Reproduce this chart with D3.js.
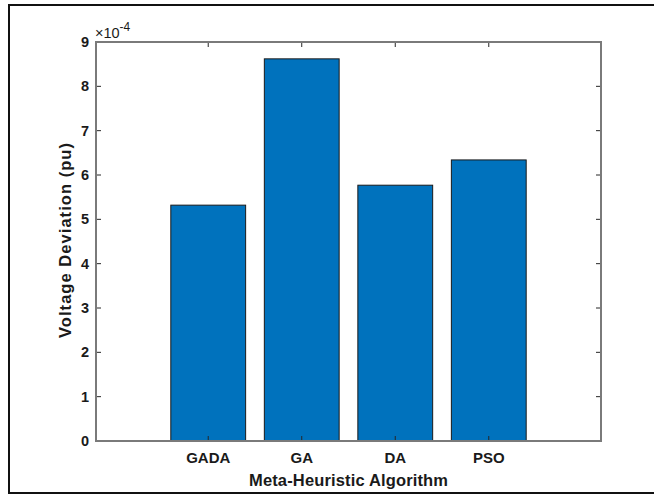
<!DOCTYPE html>
<html>
<head>
<meta charset="utf-8">
<script src="https://cdn.jsdelivr.net/npm/d3@7"></script>
<style>
  html, body { margin: 0; padding: 0; background: #fff; }
  svg { display: block; }
  text { font-family: "Liberation Sans", Arial, Helvetica, sans-serif; fill: #1a1a1a; }
</style>
</head>
<body>
<svg id="chart" width="654" height="495"></svg>
<script>
const categories = ["GADA", "GA", "DA", "PSO"];
const values = [5.32, 8.62, 5.77, 6.34]; // ×10^-4
const yTicks = [0, 1, 2, 3, 4, 5, 6, 7, 8, 9];

const svg = d3.select("#chart");
const mLeft = 96, mRight = 601, mTop = 42, mBottom = 441;

// outer frame
svg.append("rect").attr("x", 9).attr("y", 5).attr("width", 680).attr("height", 488)
  .attr("fill", "none").attr("stroke", "#111").attr("stroke-width", 2);

const x = d3.scaleLinear().domain([-0.2, 5.2]).range([mLeft, mRight]);
const y = d3.scaleLinear().domain([0, 9]).range([mBottom, mTop]);
const pos = (d, i) => i + 1;
const bw = x(0.8) - x(0);

// bars
svg.append("g").selectAll("rect").data(values).join("rect")
  .attr("x", (d, i) => x(pos(d, i)) - bw / 2)
  .attr("y", d => y(d))
  .attr("width", bw)
  .attr("height", d => y(0) - y(d))
  .attr("fill", "#0072BD")
  .attr("stroke", "#1a1a1a")
  .attr("stroke-width", 1);

const tickLen = 5;
const tickColor = "#262626";
const g = svg.append("g");
// bottom & top ticks
categories.forEach((c, i) => {
  const xp = x(i + 1);
  g.append("line").attr("x1", xp).attr("x2", xp).attr("y1", mBottom).attr("y2", mBottom - tickLen)
    .attr("stroke", tickColor).attr("stroke-width", 1);
  g.append("line").attr("x1", xp).attr("x2", xp).attr("y1", mTop).attr("y2", mTop + tickLen)
    .attr("stroke", tickColor).attr("stroke-width", 1);
  g.append("text").attr("x", xp).attr("y", 463).attr("text-anchor", "middle")
    .attr("font-size", 15).attr("font-weight", "bold").text(c);
});
// left & right ticks
yTicks.forEach(t => {
  const yp = y(t);
  g.append("line").attr("x1", mLeft).attr("x2", mLeft + tickLen).attr("y1", yp).attr("y2", yp)
    .attr("stroke", tickColor).attr("stroke-width", 1);
  g.append("line").attr("x1", mRight).attr("x2", mRight - tickLen).attr("y1", yp).attr("y2", yp)
    .attr("stroke", tickColor).attr("stroke-width", 1);
  g.append("text").attr("x", 89).attr("y", yp + 5).attr("text-anchor", "end")
    .attr("font-size", 14.5).attr("font-weight", "bold").text(t);
});

// axes box
svg.append("rect").attr("x", mLeft).attr("y", mTop).attr("width", mRight - mLeft).attr("height", mBottom - mTop)
  .attr("fill", "none").attr("stroke", "#7a7a7a").attr("stroke-width", 2);

// exponent label
const ex = svg.append("text").attr("x", 95).attr("y", 38).attr("font-size", 14.5);
ex.append("tspan").text("×10");
ex.append("tspan").attr("dy", -7).attr("font-size", 12).text("-4");

// axis labels
svg.append("text").attr("x", (mLeft + mRight) / 2).attr("y", 486).attr("text-anchor", "middle")
  .attr("font-size", 16.5).attr("font-weight", "bold")
  .attr("textLength", 199).attr("lengthAdjust", "spacing")
  .text("Meta-Heuristic Algorithm");
svg.append("text").attr("transform", "translate(71,240.5) rotate(-90)").attr("text-anchor", "middle")
  .attr("font-size", 16.5).attr("font-weight", "bold")
  .attr("textLength", 195).attr("lengthAdjust", "spacing")
  .text("Voltage Deviation (pu)");
</script>
</body>
</html>
